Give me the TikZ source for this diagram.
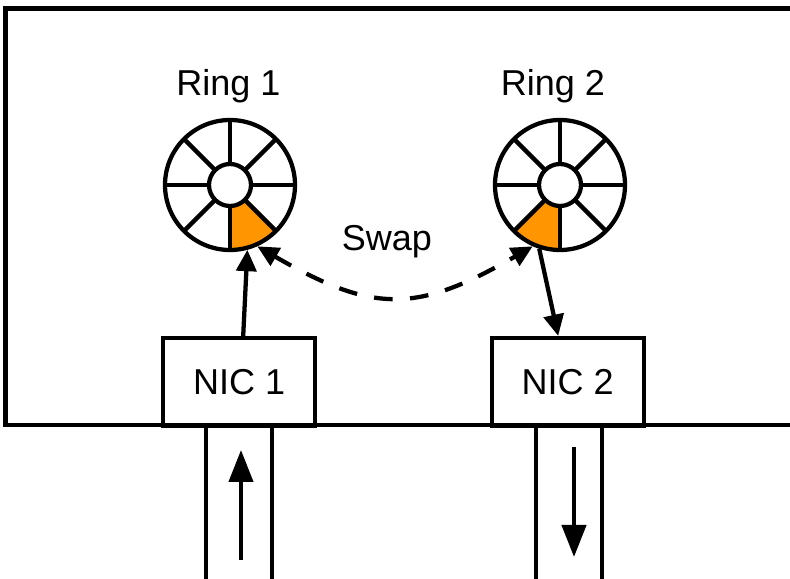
\documentclass[tikz,border=0pt]{standalone}
\usepackage{fontspec}
\setmainfont{Liberation Sans}
\usetikzlibrary{arrows.meta,calc}
\definecolor{RingOrange}{HTML}{FF9500}
\tikzset{
  wire/.style={line width=3.2pt},
  ring/.style={circle,draw,line width=3.2pt,minimum size=97.5pt,inner sep=0pt},
  nic/.style={draw,line width=3.2pt,minimum width=114pt,minimum height=65.6pt,inner sep=0pt},
  link/.style={wire,-{Triangle[length=16pt,width=15pt]}},
  swaplink/.style={wire,{Triangle[length=16pt,width=15pt]}-{Triangle[length=16pt,width=15pt]},
    dash pattern=on 14pt off 13pt},
  traffic/.style={wire,-{Triangle[length=24pt,width=18pt]}}
}

\begin{document}
\begin{tikzpicture}[x=0.75pt,y=0.75pt,font=\fontsize{27}{30}\selectfont]
  \useasboundingbox (0,0) rectangle (790,579);
  % host box, open to the right
  \draw[wire] (790,570.5) -- (5.5,570.5) -- (5.5,154) -- (790,154);
  % rings with one filled slot
  \foreach \n/\cx/\oa in {1/230/-90,2/560/-135}{
    \fill[RingOrange] ($(\cx,394)+(\oa:21)$) -- ($(\cx,394)+(\oa:65)$)
      arc[start angle=\oa,delta angle=45,radius=48.75pt]
      -- ($(\cx,394)+(\oa+45:21)$) arc[start angle=\oa+45,delta angle=-45,radius=15.75pt] -- cycle;
    \node[ring] (ring\n) at (\cx,394) {};
    \foreach \a in {0,45,...,315}
      \draw[wire] ($(ring\n.center)+(\a:21)$) -- ($(ring\n.center)+(\a:65)$);
    \draw[wire] (ring\n.center) circle[radius=15.75pt];
  }
  \node[anchor=base] (lab1) at (228.5,483) {Ring 1};
  \node[anchor=base] (lab2) at (553,483) {Ring 2};
  % NICs
  \node[nic] (nic1) at (239.2,197.25) {NIC 1};
  \node[nic] (nic2) at (567.7,197.25) {NIC 2};
  \draw[link] ($(nic1.north)+(4,0)$) -- (ring1.-75);
  \draw[link] (ring2.-108) -- ($(nic2.north)+(-9.5,0)$);
  \draw[swaplink] (ring1.-66) to[out=-30,in=-150,looseness=1.25] (ring2.-114);
  \node[anchor=base] (swap) at (387,328) {Swap};
  % links below the NICs
  \draw[wire] (206,154) -- (206,0);
  \draw[wire] (272,154) -- (272,0);
  \draw[wire] (536,154) -- (536,0);
  \draw[wire] (602,154) -- (602,0);
  \coordinate (in0) at (241,19);
  \coordinate (in1) at (241,129);
  \coordinate (out0) at (574,132);
  \coordinate (out1) at (574,22);
  \draw[traffic] (in0) -- (in1);
  \draw[traffic] (out0) -- (out1);
\end{tikzpicture}
\end{document}
